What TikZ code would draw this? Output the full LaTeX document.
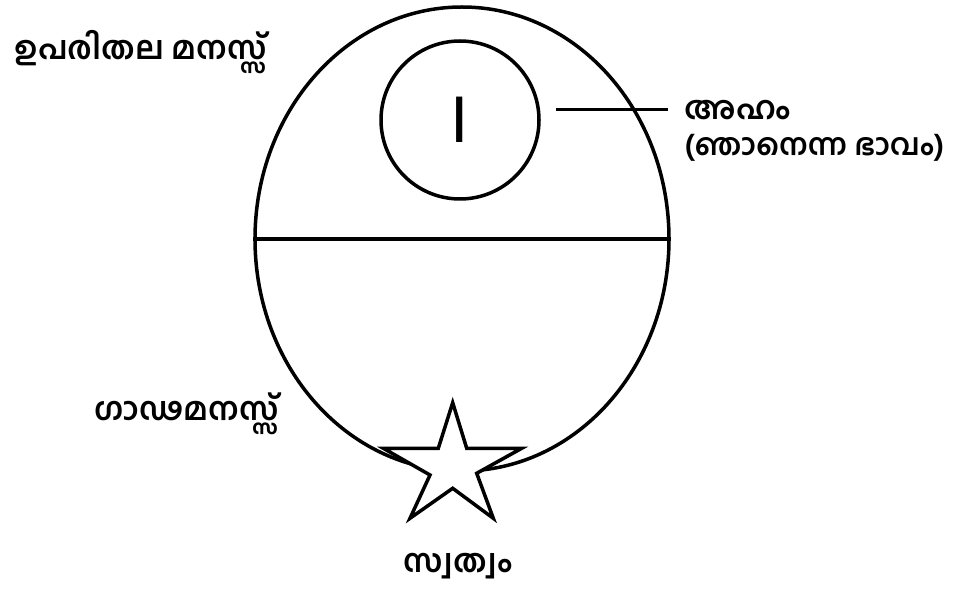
\documentclass[tikz,border=0pt]{standalone}
\usepackage{fontspec}
\setmainfont{Liberation Sans}
\newfontfamily\mal[Script=Malayalam]{Hind Kochi}
\usetikzlibrary{shapes.geometric}
\begin{document}
\begin{tikzpicture}[x=1pt,y=-1pt,line width=3.5pt,
  lbl/.style={font=\mal\bfseries\fontsize{32}{36}\selectfont,inner sep=0pt,anchor=west},
  shape line/.style={draw,line width=3.5pt,inner sep=0pt}]
\fill[white] (0,0) rectangle (953,593);
\useasboundingbox (0,0) rectangle (953,593);
% outer mind
\node[shape line,ellipse,minimum width=414pt,minimum height=464pt] (mind) at (462,239) {};
\draw (mind.west) -- (mind.east);
% ego circle
\node[shape line,circle,minimum size=158pt,font=\fontsize{66}{66}\selectfont] (ego) at (460,120) {I};
% labels
\node[lbl] (surface) at (13,52) {ഉപരിതല മനസ്സ്};
\node[lbl] (aham) at (683,110) {അഹം};
\node[lbl,font=\mal\bfseries\fontsize{30}{34}\selectfont] (ahamnote) at (683,148) {(ഞാനെന്ന ഭാവം)};
\node[lbl] (deep) at (93,414) {ഗാഢമനസ്സ്};
\node[lbl,anchor=center] (self) at (458,566) {സ്വത്വം};
\draw[line width=3pt] ([xshift=15pt]ego.east |- aham.west) -- ([xshift=-15pt]aham.west);
% star
\draw[fill=white,line join=miter] (452.7,402.7) -- (466.7,448.3) -- (521.7,448.3) -- (476.7,473.3)
  -- (493.3,518.3) -- (452.7,488.3) -- (410,518.3) -- (430,475) -- (383.3,448.3)
  -- (438.3,448.3) -- cycle;
\end{tikzpicture}
\end{document}
